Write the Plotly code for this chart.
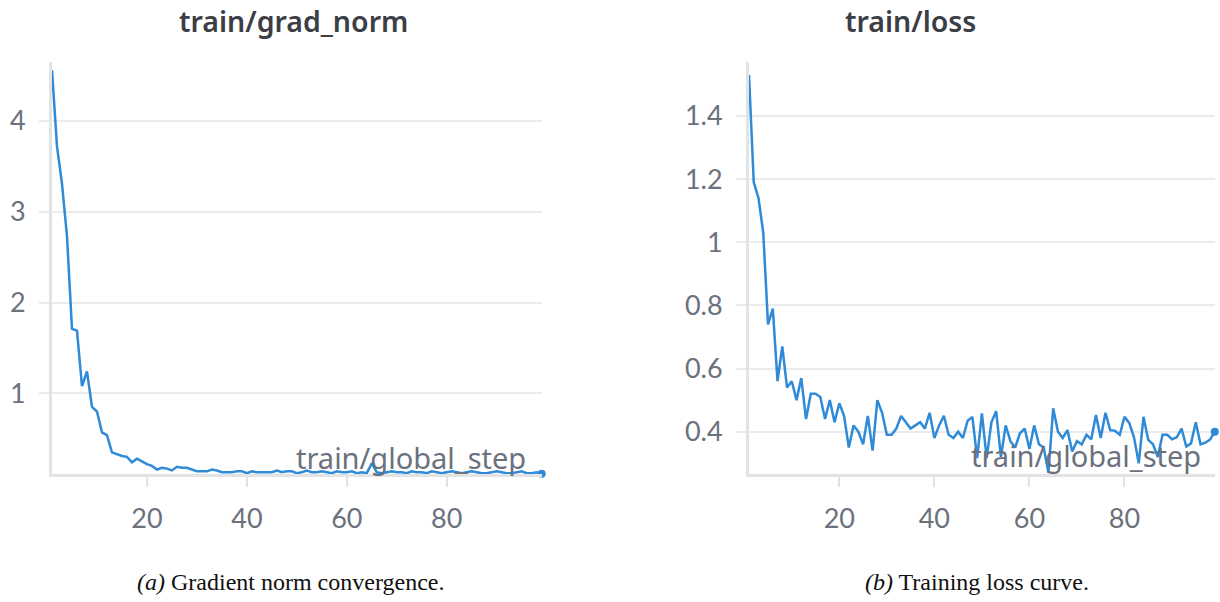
import plotly.graph_objects as go

steps = list(range(1, 100))

grad_norm = [
    4.56, 3.72, 3.31, 2.73, 1.71, 1.69, 1.08, 1.24, 0.85, 0.80,
    0.57, 0.54, 0.35, 0.33, 0.31, 0.30, 0.24, 0.28, 0.25, 0.22,
    0.20, 0.16, 0.18, 0.17, 0.15, 0.19, 0.18, 0.18, 0.16, 0.14,
    0.14, 0.14, 0.16, 0.15, 0.13, 0.13, 0.13, 0.14, 0.14, 0.12,
    0.14, 0.13, 0.13, 0.13, 0.13, 0.15, 0.13, 0.14, 0.14, 0.12,
    0.13, 0.15, 0.13, 0.13, 0.14, 0.13, 0.12, 0.14, 0.13, 0.13,
    0.14, 0.12, 0.13, 0.12, 0.23, 0.13, 0.12, 0.13, 0.14, 0.13,
    0.13, 0.12, 0.14, 0.13, 0.13, 0.12, 0.14, 0.13, 0.12, 0.13,
    0.14, 0.13, 0.12, 0.13, 0.14, 0.13, 0.12, 0.12, 0.13, 0.14,
    0.13, 0.12, 0.12, 0.13, 0.14, 0.12, 0.12, 0.13, 0.115,
]

loss = [
    1.53, 1.19, 1.14, 1.03, 0.74, 0.79, 0.56, 0.67, 0.54, 0.56,
    0.50, 0.57, 0.44, 0.52, 0.52, 0.51, 0.44, 0.50, 0.43, 0.49,
    0.45, 0.35, 0.42, 0.40, 0.36, 0.45, 0.34, 0.50, 0.46, 0.39,
    0.39, 0.41, 0.45, 0.43, 0.41, 0.42, 0.43, 0.41, 0.46, 0.38,
    0.42, 0.45, 0.39, 0.38, 0.40, 0.38, 0.435, 0.447, 0.316, 0.458,
    0.316, 0.43, 0.465, 0.32, 0.42, 0.37, 0.35, 0.395, 0.41, 0.345,
    0.42, 0.36, 0.35, 0.27, 0.474, 0.40, 0.38, 0.405, 0.337, 0.37,
    0.36, 0.39, 0.376, 0.453, 0.38, 0.46, 0.405, 0.403, 0.39, 0.447,
    0.428, 0.382, 0.30, 0.447, 0.374, 0.36, 0.32, 0.39, 0.39, 0.376,
    0.382, 0.41, 0.353, 0.363, 0.43, 0.36, 0.365, 0.375, 0.40,
]

x_ticks = [20, 40, 60, 80]
gn_ticks = [1, 2, 3, 4]
loss_ticks = [0.4, 0.6, 0.8, 1.0, 1.2, 1.4]
loss_ticktext = ["0.4", "0.6", "0.8", "1", "1.2", "1.4"]

titles = ["train/grad_norm", "train/loss"]
captions = ["<i>(a)</i> Gradient norm convergence.", "<i>(b)</i> Training loss curve."]
x_title = "train/global_step"

W, H = 1220, 602


def xp(px):
    return px / W


def yp(py):
    return 1 - py / H


LINE = "#2f8ad8"
AXIS = "#e2e3e5"
GRID = "#ebebed"
TICKC = "#6b717d"
SANS = "Lato"
SANS2 = "Noto Sans"

fig = go.Figure()
for ys, xa, ya in [(grad_norm, "x", "y"), (loss, "x2", "y2")]:
    fig.add_trace(go.Scatter(
        x=steps, y=ys, xaxis=xa, yaxis=ya, mode="lines",
        line=dict(color=LINE, width=2.5), cliponaxis=False, showlegend=False,
    ))
    fig.add_trace(go.Scatter(
        x=[steps[-1]], y=[ys[-1]], xaxis=xa, yaxis=ya, mode="markers",
        marker=dict(color=LINE, size=8), cliponaxis=False, showlegend=False,
    ))

ydom = [yp(474), yp(62)]
common_x = dict(
    range=[1, 99], tickvals=x_ticks, showgrid=False, zeroline=False,
    showline=True, linecolor=AXIS, linewidth=3, ticks="outside", ticklen=10,
    tickwidth=2, tickcolor=AXIS, tickfont=dict(family=SANS, size=27, color=TICKC),
    ticklabelstandoff=9,
)
common_y = dict(
    showgrid=True, gridcolor=GRID, gridwidth=1.5, zeroline=False,
    showline=True, linecolor=AXIS, linewidth=3, ticks="outside", ticklen=10,
    tickwidth=1.5, tickcolor=GRID, tickfont=dict(family=SANS, size=27, color=TICKC),
    ticklabelstandoff=8,
)
fig.update_layout(
    width=W, height=H, margin=dict(l=0, r=0, t=0, b=0),
    paper_bgcolor="white", plot_bgcolor="white",
    xaxis=dict(domain=[xp(52), xp(541.7)], anchor="y", **common_x),
    yaxis=dict(domain=ydom, anchor="x", range=[0.111, 4.65], tickvals=gn_ticks, **common_y),
    xaxis2=dict(domain=[xp(749), xp(1214.8)], anchor="y2", **common_x),
    yaxis2=dict(domain=ydom, anchor="x2", range=[0.266, 1.571], tickvals=loss_ticks,
                ticktext=loss_ticktext, **common_y),
)

ann = []
for t, xc in zip(titles, [293, 910]):
    ann.append(dict(text=t, x=xp(xc), y=yp(21), xref="paper", yref="paper",
                    xanchor="center", yanchor="middle", showarrow=False,
                    font=dict(family=SANS2, size=28.5, color="#3b3e44", weight=600)))
for xr, yc in zip([528, 1203], [457, 455]):
    ann.append(dict(text=x_title, x=xp(xr), y=yp(yc), xref="paper", yref="paper",
                    xanchor="right", yanchor="middle", showarrow=False,
                    font=dict(family=SANS2, size=29, color=TICKC)))
for c, xc in zip(captions, [290, 977]):
    ann.append(dict(text=c, x=xp(xc), y=yp(582), xref="paper", yref="paper",
                    xanchor="center", yanchor="middle", showarrow=False,
                    font=dict(family="Liberation Serif", size=24, color="#111111")))
fig.update_layout(annotations=ann)

fig.write_html(
    "out.html",
    config={"displayModeBar": False},
    post_script="document.body.style.margin='0';document.body.style.overflow='hidden';",
)
